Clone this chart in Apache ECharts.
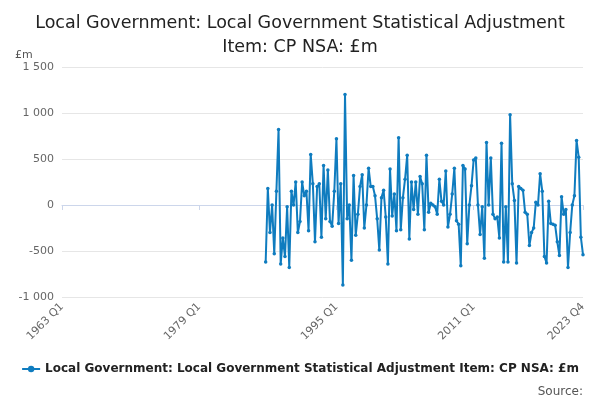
<!DOCTYPE html><html><head><meta charset="utf-8"><script src="https://cdn.jsdelivr.net/npm/echarts@6/dist/echarts.min.js"></script></head><body style="margin:0"><div id="c" style="width:600px;height:400px"></div><script>
const values = [-620,180,-300,0,-530,150,820,-640,-360,-560,
-20,-680,150,0,250,-300,-180,250,100,150,
-280,550,230,-400,200,230,-350,430,-150,380,
-180,-230,150,720,-200,230,-870,1200,-150,0,
-600,320,-330,-100,200,330,-250,0,400,200,
200,100,-150,-490,80,160,-130,-640,390,-120,
120,-280,730,-270,80,280,540,-370,250,-50,
250,-100,310,230,-270,540,-80,20,0,-20,
-100,280,40,0,370,-240,-100,120,400,-170,
-210,-660,430,390,-420,0,210,490,510,0,
-320,-20,-580,680,0,510,-100,-150,-130,-360,
670,-620,-20,-620,980,
230,50,-630,200,180,160,-80,-100,-440,-300,-250,30,0,340,150,-560,-630,40,-200,-210,-220,-400,-550,90,-100,-50,-680,-300,0,100,700,520,-350,-540];
const categories = [];
for (let y = 1963; y <= 2023; y++) for (let q = 1; q <= 4; q++) categories.push(y + ' Q' + q);
const seriesData = new Array(categories.length - values.length).fill(null).concat(values);
const last = categories.length - 1;
const showIdx = (i) => i % 64 === 0 || i === last;
const name = 'Local Government: Local Government Statistical Adjustment Item: CP NSA: £m';
const c = echarts.init(document.getElementById('c'));
c.setOption({
  animation:false,
  textStyle:{fontFamily:'DejaVu Sans'},
  title:[{text:'Local Government: Local Government Statistical Adjustment\nItem: CP NSA: £m',left:'center',top:6,textStyle:{fontSize:17.5,fontWeight:'normal',color:'#222',lineHeight:24}},
         {text:'£m',left:10,top:45,textStyle:{fontSize:11,fontWeight:'normal',color:'#555'}},
         {text:'Source:',right:12,top:381,textStyle:{fontSize:12,fontWeight:'normal',color:'#555'}}],
  legend:{bottom:20,left:'center',itemWidth:18,itemHeight:8,textStyle:{fontSize:12,color:'#222',fontWeight:'bold'},data:[name]},
  grid:{left:62,right:17,top:67,bottom:103},
  xAxis:{type:'category',data:categories,boundaryGap:false,
    axisLine:{lineStyle:{color:'#ccd6eb'}},
    axisTick:{interval:showIdx,lineStyle:{color:'#ccd6eb'}},
    axisLabel:{interval:showIdx,rotate:45,color:'#666',fontSize:11}},
  yAxis:{type:'value',min:-1000,max:1500,interval:500,
    axisLabel:{color:'#666',fontSize:11,formatter:v=>v.toLocaleString('en').replace(',',' ')},
    splitLine:{lineStyle:{color:'#e6e6e6'}}},
  series:[{name:name,type:'line',data:seriesData,color:'#0f7cbf',symbol:'circle',symbolSize:3.5,showAllSymbol:true,lineStyle:{width:2}}]
});
</script></body></html>
